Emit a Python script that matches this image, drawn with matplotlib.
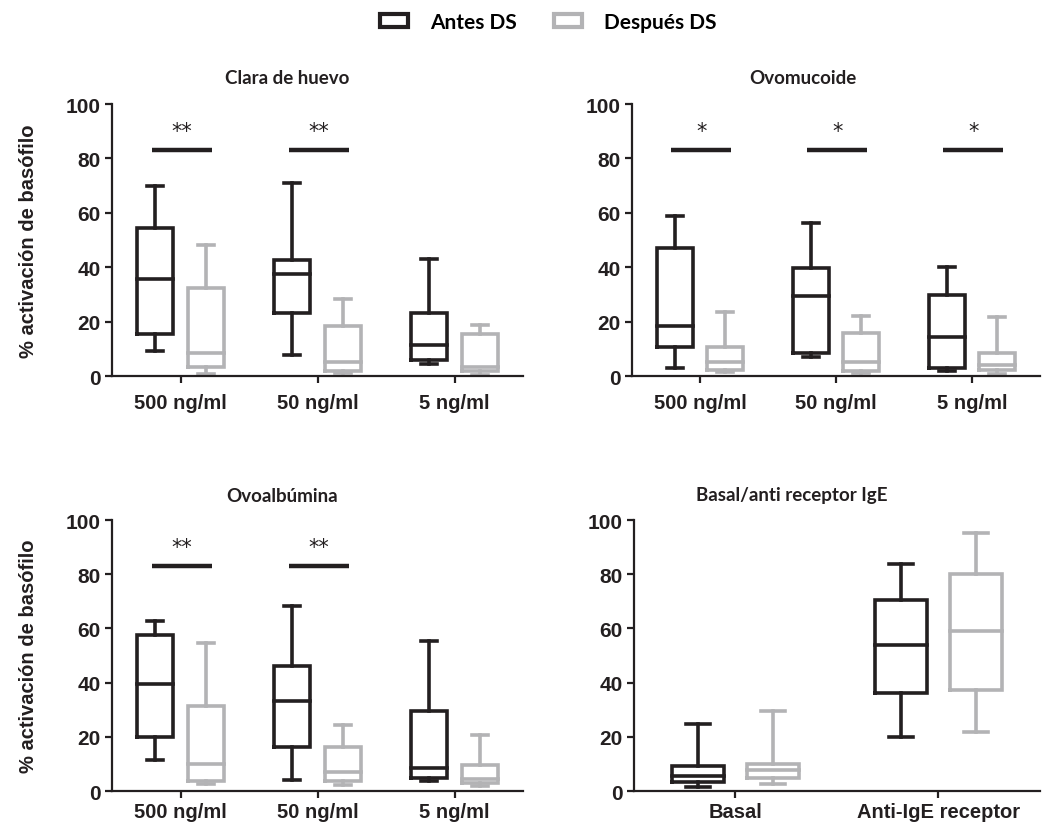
import matplotlib
matplotlib.use('Agg')
import matplotlib.pyplot as plt
from matplotlib.patches import Patch

# box stats per group: [whisker low, q1, median, q3, whisker high]
clara_antes = [[9.2, 15.3, 35.6, 54.6, 70.0], [7.7, 23.3, 37.4, 42.6, 70.8], [4.4, 5.9, 11.4, 23.3, 43.0]]
clara_despues = [[0.9, 3.4, 8.3, 32.3, 48.2], [1.0, 1.8, 5.2, 18.4, 28.2], [0.3, 1.9, 3.2, 15.4, 18.8]]
ovomuc_antes = [[3.1, 10.7, 18.4, 47.2, 58.9], [7.0, 8.6, 29.4, 39.6, 56.2], [1.7, 3.1, 14.4, 29.7, 40.2]]
ovomuc_despues = [[1.5, 2.2, 5.2, 10.8, 23.7], [1.0, 1.8, 5.2, 16.0, 22.1], [0.9, 2.4, 3.9, 8.6, 21.7]]
ovoalb_antes = [[11.3, 20.1, 39.5, 57.5, 62.8], [4.2, 16.2, 33.1, 46.3, 68.3], [3.6, 4.8, 8.5, 29.7, 55.2]]
ovoalb_despues = [[2.7, 3.6, 9.8, 31.3, 54.6], [2.3, 3.6, 7.0, 16.4, 24.5], [2.0, 3.0, 4.5, 9.5, 20.5]]
basal_antes = [[1.5, 3.3, 5.5, 9.4, 24.8], [19.9, 36.1, 54.0, 70.4, 83.7]]
basal_despues = [[2.7, 4.8, 7.6, 10.1, 29.7], [21.7, 37.4, 59.1, 80.2, 95.1]]

conc_labels = ['500 ng/ml', '50 ng/ml', '5 ng/ml']
basal_labels = ['Basal', 'Anti-IgE receptor']
clara_sig = ['**', '**', '']
ovomuc_sig = ['*', '*', '*']
ovoalb_sig = ['**', '**', '']

BLACK = '#231f20'
GRAY = '#b3b3b5'

plt.rcParams['font.family'] = ['Liberation Sans', 'DejaVu Sans']
fig = plt.figure(figsize=(10.45, 8.29), dpi=100)


def stats(rows):
    out = []
    for lo, q1, med, q3, hi in rows:
        out.append({'whislo': lo, 'q1': q1, 'med': med, 'q3': q3, 'whishi': hi, 'fliers': []})
    return out


def panel(rect, antes, despues, labels, sig, title, title_xy, xpad, ylabel=True):
    ax = fig.add_axes(rect)
    n = len(labels)
    pos = list(range(n))
    for data, off, col in [(antes, -0.185, BLACK), (despues, 0.185, GRAY)]:
        lp = dict(color=col, linewidth=2.6, solid_capstyle='projecting', solid_joinstyle='miter')
        ax.bxp(stats(data), positions=[p + off for p in pos], widths=0.26, capwidths=0.12,
               showfliers=False, boxprops=lp, whiskerprops=lp, capprops=lp, medianprops=lp,
               manage_ticks=False)
    for p, s in zip(pos, sig):
        if s:
            ax.plot([p - 0.21, p + 0.23], [83, 83], color=BLACK, lw=3.2, solid_capstyle='butt')
            ax.text(p + 0.01, 86.5, s, ha='center', va='bottom', fontsize=15, color=BLACK,
                    family='DejaVu Sans')
    for a in ax.get_children():
        if hasattr(a, 'set_clip_on'):
            a.set_clip_on(False)
    ax.set_xlim(-0.5, n - 0.5)
    ax.set_ylim(0, 100)
    ax.set_yticks([0, 20, 40, 60, 80, 100])
    ax.set_xticks(pos)
    ax.set_xticklabels(labels)
    ax.spines['top'].set_visible(False)
    ax.spines['right'].set_visible(False)
    ax.spines['left'].set_linewidth(1.6)
    ax.spines['bottom'].set_linewidth(1.6)
    ax.spines['left'].set_color(BLACK)
    ax.spines['bottom'].set_color(BLACK)
    ax.tick_params(axis='y', length=5, width=1.6, pad=3, labelsize=15, colors=BLACK)
    ax.tick_params(axis='x', length=5, width=1.6, pad=xpad, labelsize=14.5, colors=BLACK)
    for t in ax.get_xticklabels() + ax.get_yticklabels():
        t.set_fontweight('bold')
    if ylabel:
        ax.set_ylabel('% activación de basófilo', fontsize=14.5, fontweight='bold', labelpad=20,
                      color=BLACK)
    fig.text(title_xy[0] / 1045, 1 - title_xy[1] / 829, title, ha='center', va='center',
             fontsize=13.5, fontweight='bold', family=['Lato', 'DejaVu Sans'], color=BLACK)
    return ax


panel([0.1072, 0.5452, 0.3933, 0.3281], clara_antes, clara_despues, conc_labels, clara_sig,
      'Clara de huevo', (287, 78), 7)
panel([0.6048, 0.5452, 0.3904, 0.3281], ovomuc_antes, ovomuc_despues, conc_labels, ovomuc_sig,
      'Ovomucoide', (803, 78), 7, ylabel=False)
panel([0.1072, 0.0446, 0.3933, 0.3269], ovoalb_antes, ovoalb_despues, conc_labels, ovoalb_sig,
      'Ovoalbúmina', (282, 496), 3)
panel([0.6067, 0.0446, 0.3885, 0.3269], basal_antes, basal_despues, basal_labels, ['', ''],
      'Basal/anti receptor IgE', (792, 496), 3, ylabel=False)

handles = [Patch(facecolor='white', edgecolor=BLACK, linewidth=3),
           Patch(facecolor='white', edgecolor=GRAY, linewidth=3)]
fig.legend(handles, ['Antes DS', 'Después DS'], loc='center', bbox_to_anchor=(548 / 1045, 1 - 23 / 829),
           ncol=2, frameon=False, handlelength=1.35, handleheight=0.6, handletextpad=1.07,
           columnspacing=1.77, prop={'family': ['Lato', 'DejaVu Sans'], 'weight': 'bold', 'size': 15})

fig.savefig('out.png', dpi=100)
